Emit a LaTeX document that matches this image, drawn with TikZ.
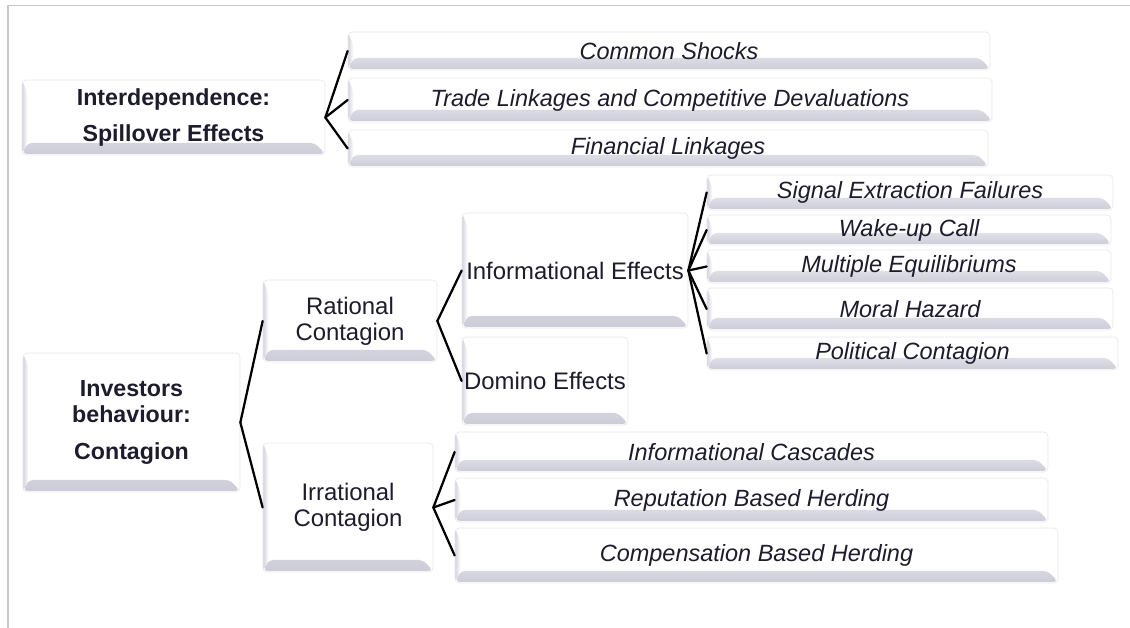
\documentclass[tikz,border=0pt]{standalone}
\usepackage{fontspec}
\setmainfont{Liberation Sans}

\definecolor{txt}{RGB}{28,28,44}
\definecolor{boxline}{RGB}{232,232,238}
\definecolor{shadecol}{RGB}{204,204,216}
\definecolor{framecol}{RGB}{200,200,200}

\newcommand\itxt{\fontsize{16.7}{20}\selectfont\itshape}
\newcommand\rtxt{\fontsize{17}{18.5}\selectfont}
\newcommand\btxt{\fontsize{16.5}{18.5}\selectfont\bfseries}

\tikzset{
  % a box given by its corners x1/y1/x2/y2 (in pixel units)
  spot/.style n args={4}{minimum width={(#3-#1)*0.025cm},
    minimum height={(#4-#2)*0.025cm}, at={({(#1+#3)/2},{(#2+#4)/2})}},
  box/.style={draw=boxline, line width=0.5pt, rounded corners=3pt, fill=white,
    inner sep=0pt, text=txt,
    path picture={
      % bottom bevel
      \path[top color=white, bottom color=shadecol]
        ([yshift=0.03cm]path picture bounding box.south west) --
        ([yshift=0.03cm]path picture bounding box.south east) --
        ([xshift=-0.25cm,yshift=0.3cm]path picture bounding box.south east) --
        ([xshift=0.14cm,yshift=0.3cm]path picture bounding box.south west) -- cycle;
      % left bevel
      \path[left color=shadecol!85, right color=white]
        ([yshift=0.03cm]path picture bounding box.south west) --
        ([xshift=0.14cm,yshift=0.3cm]path picture bounding box.south west) --
        ([xshift=0.14cm,yshift=-0.35cm]path picture bounding box.north west) --
        (path picture bounding box.north west) -- cycle;
    }},
  leaf/.style={box, font=\itxt},
  mid/.style={box, font=\rtxt, align=center},
  root/.style={box, font=\btxt, align=center},
  link/.style={draw=black, line width=1.6pt, line cap=round},
  framing/.style={draw=framecol, line width=1.2pt}
}

\begin{document}
\begin{tikzpicture}[x=0.025cm, y=-0.025cm]
  \useasboundingbox (0,0) rectangle (1130,628);
  \draw[framing] (8,628) -- (8,5.5) -- (1130,5.5);

  % Interdependence branch
  \node[root, spot={22}{80}{325}{155}, font=\fontsize{16.5}{25}\selectfont\bfseries] (inter)
    {Interdependence:\\Spillover Effects};
  \node[leaf, spot={348}{32}{990}{70}]   (cs) {Common Shocks};
  \node[leaf, spot={348}{78}{992}{122}]  (tl) {Trade Linkages and Competitive Devaluations};
  \node[leaf, spot={348}{130}{988}{167}] (fl) {Financial Linkages};

  % Contagion branch
  \node[root, spot={23}{353}{240}{492}] (inv)
    {Investors\\behaviour:\\[7.8pt]Contagion};
  \node[mid, spot={263}{280}{437}{362}] (rat) {Rational\\Contagion};
  \node[mid, spot={263}{443}{433}{572}] (irr) {Irrational\\Contagion};

  \node[mid, spot={462}{213}{688}{328}] (inf) {Informational Effects};
  \node[mid, spot={462}{337}{628}{425}] (dom) {Domino Effects};

  \node[leaf, spot={707}{175}{1113}{210}] (sig) {Signal Extraction Failures};
  \node[leaf, spot={707}{215}{1111}{245}] (wak) {Wake-up Call};
  \node[leaf, spot={707}{250}{1111}{283}] (mul) {Multiple Equilibriums};
  \node[leaf, spot={707}{288}{1113}{330}] (mor) {Moral Hazard};
  \node[leaf, spot={707}{337}{1118}{370}] (pol) {Political Contagion};

  \node[leaf, spot={455}{432}{1048}{472}] (cas) {Informational Cascades};
  \node[leaf, spot={455}{478}{1048}{522}] (rep) {Reputation Based Herding};
  \node[leaf, spot={455}{528}{1058}{583}] (com) {Compensation Based Herding};

  % brackets
  \foreach \c in {cs,tl,fl} \draw[link] (inter.east) -- (\c.west);
  \foreach \c in {rat,irr} \draw[link] (inv.east) -- (\c.west);
  \foreach \c in {inf,dom} \draw[link] (rat.east) -- (\c.west);
  \foreach \c in {sig,wak,mul,mor,pol} \draw[link] (inf.east) -- (\c.west);
  \foreach \c in {cas,rep,com} \draw[link] (irr.east) -- (\c.west);
\end{tikzpicture}
\end{document}
